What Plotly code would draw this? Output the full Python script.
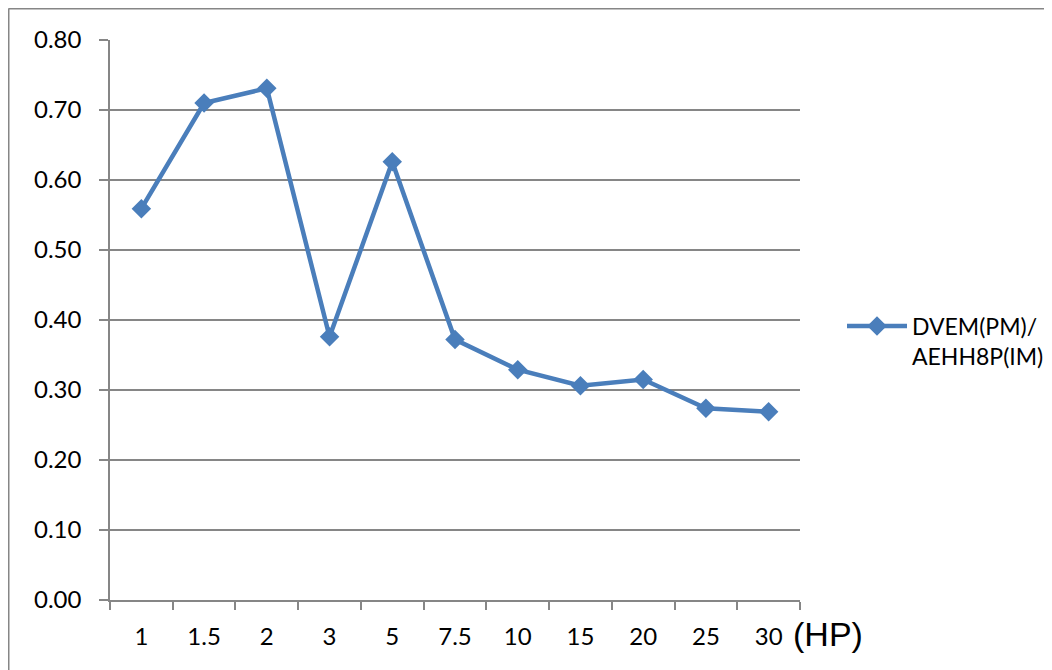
import plotly.graph_objects as go

categories = ["1", "1.5", "2", "3", "5", "7.5", "10", "15", "20", "25", "30"]
ratio = [0.559, 0.710, 0.731, 0.376, 0.626, 0.372, 0.329, 0.306, 0.315, 0.274, 0.269]
series_name = "DVEM(PM)/<br>AEHH8P(IM)"
y_ticks = [0.0, 0.1, 0.2, 0.3, 0.4, 0.5, 0.6, 0.7, 0.8]

# page has an 8px body margin; figure coords = screenshot coords - 8
W, H = 1044, 662
L, T = 102, 32
pw, ph = 690, 560
R, B = W - L - pw, H - T - ph

def px_x(x):  # screenshot px -> paper
    return (x - 8 - L) / pw

def px_y(y):
    return 1 - (y - 8 - T) / ph

fig = go.Figure()
fig.add_trace(go.Scatter(
    x=categories, y=ratio, mode="lines+markers", name=series_name,
    line=dict(color="#4A7EBB", width=4.5),
    marker=dict(symbol="diamond", size=15, color="#4A7EBB"),
))

gray = "#868686"
fig.update_layout(
    width=W, height=H,
    margin=dict(l=L, r=R, t=T, b=B, autoexpand=False),
    paper_bgcolor="white", plot_bgcolor="white",
    font=dict(family="Lato, Open Sans, sans-serif", color="black", size=24),
    showlegend=True,
    legend=dict(x=px_x(842), y=px_y(341), xanchor="left", yanchor="middle",
                valign="top",
                font=dict(size=23, family="Lato, sans-serif"),
                bgcolor="rgba(0,0,0,0)", itemwidth=60),
    xaxis=dict(type="category", showgrid=False, showline=True, linecolor=gray,
               linewidth=1.5, ticks="outside", tickson="boundaries", ticklen=8,
               tickcolor=gray, tickwidth=1.5, tickfont=dict(size=24),
               range=[-0.5, 10.5], fixedrange=True, ticklabelstandoff=14),
    yaxis=dict(range=[0, 0.8], tickvals=y_ticks, tickformat=".2f",
               showgrid=True, gridcolor=gray, gridwidth=1.5, showline=True,
               linecolor=gray, linewidth=1.5, ticks="outside", ticklen=9,
               tickcolor=gray, tickwidth=1.5, tickfont=dict(size=24),
               zeroline=False, fixedrange=True, ticklabelstandoff=13),
    shapes=[
        dict(type="line", xref="paper", yref="paper",
             x0=px_x(8.5), x1=px_x(1060), y0=px_y(8.5), y1=px_y(8.5),
             line=dict(color=gray, width=2)),
        dict(type="line", xref="paper", yref="paper",
             x0=px_x(8.5), x1=px_x(8.5), y0=px_y(8.5), y1=px_y(680),
             line=dict(color=gray, width=2)),
    ],
    annotations=[
        dict(text="(HP)", xref="paper", yref="paper", x=px_x(791), y=px_y(634),
             xanchor="left", yanchor="middle", showarrow=False,
             font=dict(size=34, family="Liberation Sans, Arial, sans-serif")),
    ],
)

fig.write_html("out.html")
